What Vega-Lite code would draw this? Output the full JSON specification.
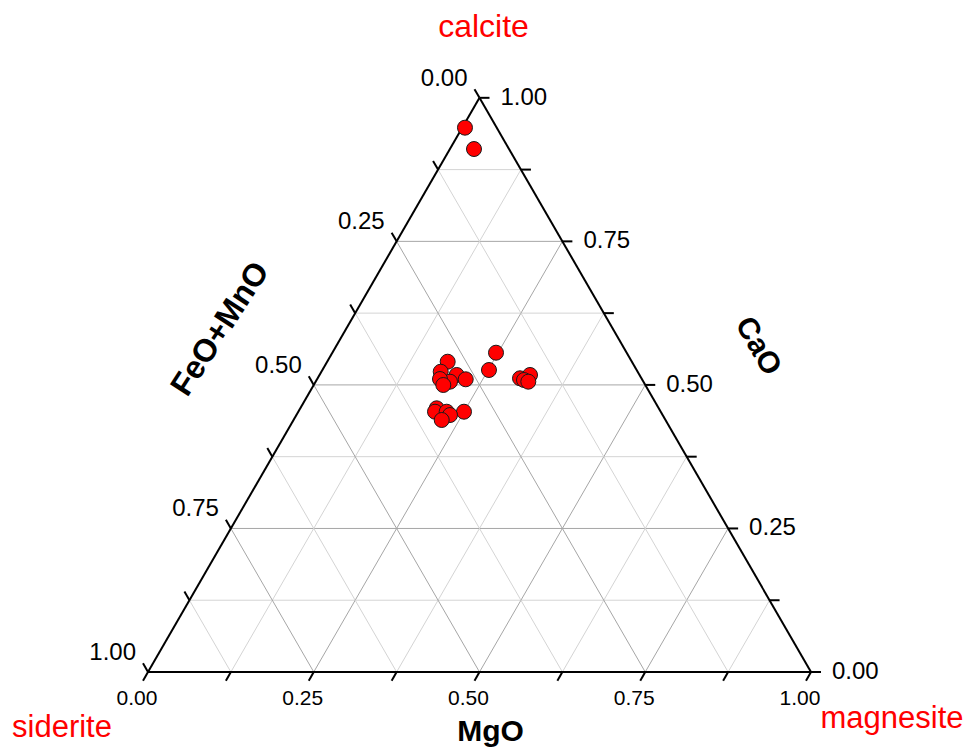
{
  "$schema": "https://vega.github.io/schema/vega-lite/v6.json",
  "autosize": "none",
  "width": 976,
  "height": 752,
  "padding": 0,
  "background": "white",
  "config": {"view": {"stroke": null}, "text": {"font": "Liberation Sans"}},
  "datasets": {
    "grid": [
      {"comp": "CaO", "v": 0.125, "major": false, "x1": 0.0625, "y1": 0.108253, "x2": 0.9375, "y2": 0.108253},
      {"comp": "CaO", "v": 0.25, "major": true, "x1": 0.125, "y1": 0.216506, "x2": 0.875, "y2": 0.216506},
      {"comp": "CaO", "v": 0.375, "major": false, "x1": 0.1875, "y1": 0.32476, "x2": 0.8125, "y2": 0.32476},
      {"comp": "CaO", "v": 0.5, "major": true, "x1": 0.25, "y1": 0.433013, "x2": 0.75, "y2": 0.433013},
      {"comp": "CaO", "v": 0.625, "major": false, "x1": 0.3125, "y1": 0.541266, "x2": 0.6875, "y2": 0.541266},
      {"comp": "CaO", "v": 0.75, "major": true, "x1": 0.375, "y1": 0.649519, "x2": 0.625, "y2": 0.649519},
      {"comp": "CaO", "v": 0.875, "major": false, "x1": 0.4375, "y1": 0.757772, "x2": 0.5625, "y2": 0.757772},
      {"comp": "MgO", "v": 0.125, "major": false, "x1": 0.125, "y1": 0, "x2": 0.5625, "y2": 0.757772},
      {"comp": "MgO", "v": 0.25, "major": true, "x1": 0.25, "y1": 0, "x2": 0.625, "y2": 0.649519},
      {"comp": "MgO", "v": 0.375, "major": false, "x1": 0.375, "y1": 0, "x2": 0.6875, "y2": 0.541266},
      {"comp": "MgO", "v": 0.5, "major": true, "x1": 0.5, "y1": 0, "x2": 0.75, "y2": 0.433013},
      {"comp": "MgO", "v": 0.625, "major": false, "x1": 0.625, "y1": 0, "x2": 0.8125, "y2": 0.32476},
      {"comp": "MgO", "v": 0.75, "major": true, "x1": 0.75, "y1": 0, "x2": 0.875, "y2": 0.216506},
      {"comp": "MgO", "v": 0.875, "major": false, "x1": 0.875, "y1": 0, "x2": 0.9375, "y2": 0.108253},
      {"comp": "FeO", "v": 0.125, "major": false, "x1": 0.875, "y1": 0, "x2": 0.4375, "y2": 0.757772},
      {"comp": "FeO", "v": 0.25, "major": true, "x1": 0.75, "y1": 0, "x2": 0.375, "y2": 0.649519},
      {"comp": "FeO", "v": 0.375, "major": false, "x1": 0.625, "y1": 0, "x2": 0.3125, "y2": 0.541266},
      {"comp": "FeO", "v": 0.5, "major": true, "x1": 0.5, "y1": 0, "x2": 0.25, "y2": 0.433013},
      {"comp": "FeO", "v": 0.625, "major": false, "x1": 0.375, "y1": 0, "x2": 0.1875, "y2": 0.32476},
      {"comp": "FeO", "v": 0.75, "major": true, "x1": 0.25, "y1": 0, "x2": 0.125, "y2": 0.216506},
      {"comp": "FeO", "v": 0.875, "major": false, "x1": 0.125, "y1": 0, "x2": 0.0625, "y2": 0.108253}
    ],
    "edges": [
      {"x1": 0, "y1": 0, "x2": 1, "y2": 0},
      {"x1": 1, "y1": 0, "x2": 0.5, "y2": 0.866025},
      {"x1": 0.5, "y1": 0.866025, "x2": 0, "y2": 0}
    ],
    "bottomTicks": [
      {"v": 0, "x": 0, "y": 0, "label": "0.00"},
      {"v": 0.125, "x": 0.125, "y": 0},
      {"v": 0.25, "x": 0.25, "y": 0, "label": "0.25"},
      {"v": 0.375, "x": 0.375, "y": 0},
      {"v": 0.5, "x": 0.5, "y": 0, "label": "0.50"},
      {"v": 0.625, "x": 0.625, "y": 0},
      {"v": 0.75, "x": 0.75, "y": 0, "label": "0.75"},
      {"v": 0.875, "x": 0.875, "y": 0},
      {"v": 1, "x": 1, "y": 0, "label": "1.00"}
    ],
    "leftTicks": [
      {"v": 0, "x": 0.5, "y": 0.866025, "label": "0.00"},
      {"v": 0.125, "x": 0.4375, "y": 0.757772},
      {"v": 0.25, "x": 0.375, "y": 0.649519, "label": "0.25"},
      {"v": 0.375, "x": 0.3125, "y": 0.541266},
      {"v": 0.5, "x": 0.25, "y": 0.433013, "label": "0.50"},
      {"v": 0.625, "x": 0.1875, "y": 0.32476},
      {"v": 0.75, "x": 0.125, "y": 0.216506, "label": "0.75"},
      {"v": 0.875, "x": 0.0625, "y": 0.108253},
      {"v": 1, "x": 0, "y": 0, "label": "1.00"}
    ],
    "rightTicks": [
      {"v": 0, "x": 1, "y": 0, "label": "0.00"},
      {"v": 0.125, "x": 0.9375, "y": 0.108253},
      {"v": 0.25, "x": 0.875, "y": 0.216506, "label": "0.25"},
      {"v": 0.375, "x": 0.8125, "y": 0.32476},
      {"v": 0.5, "x": 0.75, "y": 0.433013, "label": "0.50"},
      {"v": 0.625, "x": 0.6875, "y": 0.541266},
      {"v": 0.75, "x": 0.625, "y": 0.649519, "label": "0.75"},
      {"v": 0.875, "x": 0.5625, "y": 0.757772},
      {"v": 1, "x": 0.5, "y": 0.866025, "label": "1.00"}
    ],
    "samples": [
      {"CaO": 0.948, "MgO": 0.004, "FeO_MnO": 0.048, "x": 0.4781, "y": 0.821},
      {"CaO": 0.911, "MgO": 0.036, "FeO_MnO": 0.053, "x": 0.4917, "y": 0.7888},
      {"CaO": 0.54, "MgO": 0.182, "FeO_MnO": 0.278, "x": 0.452, "y": 0.468},
      {"CaO": 0.523, "MgO": 0.18, "FeO_MnO": 0.297, "x": 0.4415, "y": 0.4529},
      {"CaO": 0.517, "MgO": 0.207, "FeO_MnO": 0.276, "x": 0.4656, "y": 0.448},
      {"CaO": 0.51, "MgO": 0.224, "FeO_MnO": 0.266, "x": 0.4792, "y": 0.4415},
      {"CaO": 0.506, "MgO": 0.203, "FeO_MnO": 0.291, "x": 0.4555, "y": 0.4379},
      {"CaO": 0.51, "MgO": 0.185, "FeO_MnO": 0.305, "x": 0.4404, "y": 0.4419},
      {"CaO": 0.5, "MgO": 0.195, "FeO_MnO": 0.305, "x": 0.4454, "y": 0.4329},
      {"CaO": 0.556, "MgO": 0.247, "FeO_MnO": 0.197, "x": 0.5249, "y": 0.4816},
      {"CaO": 0.526, "MgO": 0.251, "FeO_MnO": 0.223, "x": 0.5143, "y": 0.4555},
      {"CaO": 0.512, "MgO": 0.305, "FeO_MnO": 0.183, "x": 0.5611, "y": 0.443},
      {"CaO": 0.517, "MgO": 0.318, "FeO_MnO": 0.165, "x": 0.5762, "y": 0.448},
      {"CaO": 0.509, "MgO": 0.313, "FeO_MnO": 0.178, "x": 0.5671, "y": 0.4404},
      {"CaO": 0.506, "MgO": 0.321, "FeO_MnO": 0.173, "x": 0.5736, "y": 0.4379},
      {"CaO": 0.459, "MgO": 0.206, "FeO_MnO": 0.335, "x": 0.4354, "y": 0.3977},
      {"CaO": 0.453, "MgO": 0.206, "FeO_MnO": 0.341, "x": 0.4329, "y": 0.3926},
      {"CaO": 0.453, "MgO": 0.224, "FeO_MnO": 0.323, "x": 0.4505, "y": 0.3926},
      {"CaO": 0.453, "MgO": 0.25, "FeO_MnO": 0.297, "x": 0.4766, "y": 0.3926},
      {"CaO": 0.448, "MgO": 0.232, "FeO_MnO": 0.32, "x": 0.4555, "y": 0.3876},
      {"CaO": 0.439, "MgO": 0.224, "FeO_MnO": 0.337, "x": 0.443, "y": 0.3801}
    ]
  },
  "layer": [
    {
      "data": {"name": "grid"},
      "mark": {"type": "rule", "strokeWidth": 1},
      "encoding": {
        "x": {"field": "x1", "type": "quantitative", "scale": {"domain": [-0.22323, 1.24887], "nice": false, "zero": false}, "axis": null},
        "y": {"field": "y1", "type": "quantitative", "scale": {"domain": [-0.12066, 1.01357], "nice": false, "zero": false}, "axis": null},
        "x2": {"field": "x2"},
        "y2": {"field": "y2"},
        "color": {"field": "major", "type": "nominal", "scale": {"domain": [true, false], "range": ["#a6a6a6", "#d4d4d4"]}, "legend": null}
      }
    },
    {
      "data": {"name": "edges"},
      "mark": {"type": "rule", "strokeWidth": 2, "color": "black"},
      "encoding": {
        "x": {"field": "x1", "type": "quantitative"},
        "y": {"field": "y1", "type": "quantitative"},
        "x2": {"field": "x2"},
        "y2": {"field": "y2"}
      }
    },
    {
      "data": {"name": "bottomTicks"},
      "mark": {"type": "point", "shape": "M0,0L-0.5,0.866", "filled": false, "stroke": "black", "strokeWidth": 2, "size": 400, "opacity": 1},
      "encoding": {"x": {"field": "x", "type": "quantitative"}, "y": {"field": "y", "type": "quantitative"}}
    },
    {
      "data": {"name": "leftTicks"},
      "mark": {"type": "point", "shape": "M0,0L-0.5,-0.866", "filled": false, "stroke": "black", "strokeWidth": 2, "size": 400, "opacity": 1},
      "encoding": {"x": {"field": "x", "type": "quantitative"}, "y": {"field": "y", "type": "quantitative"}}
    },
    {
      "data": {"name": "rightTicks"},
      "mark": {"type": "point", "shape": "M0,0L1,0", "filled": false, "stroke": "black", "strokeWidth": 2, "size": 400, "opacity": 1},
      "encoding": {"x": {"field": "x", "type": "quantitative"}, "y": {"field": "y", "type": "quantitative"}}
    },
    {
      "data": {"name": "bottomTicks"},
      "transform": [{"filter": "datum.label != null"}],
      "mark": {"type": "text", "align": "center", "baseline": "middle", "dx": -11, "dy": 27, "fontSize": 21, "color": "black"},
      "encoding": {"x": {"field": "x", "type": "quantitative"}, "y": {"field": "y", "type": "quantitative"}, "text": {"field": "label"}}
    },
    {
      "data": {"name": "leftTicks"},
      "transform": [{"filter": "datum.label != null"}],
      "mark": {"type": "text", "align": "right", "baseline": "middle", "dx": -12, "dy": -19, "fontSize": 24, "color": "black"},
      "encoding": {"x": {"field": "x", "type": "quantitative"}, "y": {"field": "y", "type": "quantitative"}, "text": {"field": "label"}}
    },
    {
      "data": {"name": "rightTicks"},
      "transform": [{"filter": "datum.label != null"}],
      "mark": {"type": "text", "align": "left", "baseline": "middle", "dx": 21, "dy": 0, "fontSize": 24, "color": "black"},
      "encoding": {"x": {"field": "x", "type": "quantitative"}, "y": {"field": "y", "type": "quantitative"}, "text": {"field": "label"}}
    },
    {
      "data": {"name": "samples"},
      "mark": {"type": "circle", "size": 225, "fill": "#ff0000", "stroke": "#1a1a1a", "strokeWidth": 1, "opacity": 1},
      "encoding": {"x": {"field": "x", "type": "quantitative"}, "y": {"field": "y", "type": "quantitative"}}
    },
    {
      "data": {"values": [{}]},
      "mark": {"type": "text", "text": "MgO", "fontSize": 30, "fontWeight": "bold", "align": "center", "baseline": "middle", "dx": 11, "dy": 60, "color": "black"},
      "encoding": {"x": {"datum": 0.5, "type": "quantitative"}, "y": {"datum": 0, "type": "quantitative"}}
    },
    {
      "data": {"values": [{}]},
      "mark": {"type": "text", "text": "FeO+MnO", "fontSize": 32, "fontWeight": "bold", "align": "center", "baseline": "middle", "angle": -57, "dx": -4, "dy": -109, "color": "black"},
      "encoding": {"x": {"datum": 0.25, "type": "quantitative"}, "y": {"datum": 0.433013, "type": "quantitative"}}
    },
    {
      "data": {"values": [{}]},
      "mark": {"type": "text", "text": "CaO", "fontSize": 30, "fontWeight": "bold", "align": "center", "baseline": "middle", "angle": 60, "dx": 23, "dy": -117, "color": "black"},
      "encoding": {"x": {"datum": 0.75, "type": "quantitative"}, "y": {"datum": 0.433013, "type": "quantitative"}}
    },
    {
      "data": {"values": [{}]},
      "mark": {"type": "text", "text": "calcite", "fontSize": 32, "align": "center", "baseline": "alphabetic", "dx": 4, "dy": -61, "color": "#ff0000"},
      "encoding": {"x": {"datum": 0.5, "type": "quantitative"}, "y": {"datum": 0.866025, "type": "quantitative"}}
    },
    {
      "data": {"values": [{}]},
      "mark": {"type": "text", "text": "siderite", "fontSize": 31, "align": "center", "baseline": "alphabetic", "dx": -86, "dy": 65, "color": "#ff0000"},
      "encoding": {"x": {"datum": 0, "type": "quantitative"}, "y": {"datum": 0, "type": "quantitative"}}
    },
    {
      "data": {"values": [{}]},
      "mark": {"type": "text", "text": "magnesite", "fontSize": 31, "align": "center", "baseline": "alphabetic", "dx": 81, "dy": 56, "color": "#ff0000"},
      "encoding": {"x": {"datum": 1, "type": "quantitative"}, "y": {"datum": 0, "type": "quantitative"}}
    }
  ]
}
